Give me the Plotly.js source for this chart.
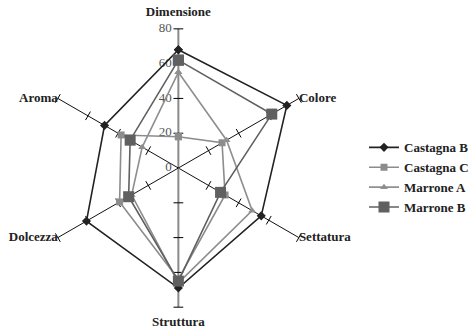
<!DOCTYPE html>
<html><head><meta charset="utf-8">
<script src="https://cdn.plot.ly/plotly-3.0.1.min.js"></script>
<style>html,body{margin:0;padding:0;background:#fff}#chart{width:474px;height:331px}</style>
</head><body><div id="chart"></div>
<script>
const categories = ["Dimensione", "Colore", "Settatura", "Struttura", "Dolcezza", "Aroma"];
const castagnaB = [68, 72, 55, 69, 61, 49];
const castagnaC = [18, 29, 31, 64, 39, 38];
const marroneA  = [55, 32, 49, 66, 31, 24];
const marroneB  = [62, 62, 28, 65, 33, 32];
const radialTicks = [0, 20, 40, 60, 80];

const close = a => a.concat([a[0]]);
const thetaC = close(categories);
const font = "Liberation Serif";
const AXMAX = 80;

const series = [
  {name: "Castagna B", r: castagnaB, color: "#222222", symbol: "diamond", size: 7, width: 1.6},
  {name: "Castagna C", r: castagnaC, color: "#8c8c8c", symbol: "square", size: 7, width: 1.6},
  {name: "Marrone A",  r: marroneA,  color: "#8f8f8f", symbol: "triangle-up", size: 7, width: 1.6},
  {name: "Marrone B",  r: marroneB,  color: "#606060", symbol: "square", size: 11, width: 1.6}
];

const traces = [];
categories.forEach((c, i) => {
  const vertical = (i % 3 === 0);
  traces.push({
    type: "scatterpolar", mode: "lines", r: [0, AXMAX], theta: [c, c],
    line: {color: vertical ? "#8a8a8a" : "#111", width: vertical ? 2 : 1},
    showlegend: false, hoverinfo: "skip"
  });
});
const tr = [], tt = [], ta = [];
categories.forEach((c, i) => {
  radialTicks.slice(1).forEach(v => { tr.push(v); tt.push(c); ta.push(60 * i - 90); });
});
traces.push({
  type: "scatterpolar", mode: "markers", r: tr, theta: tt,
  marker: {symbol: "line-ns", size: 7, angle: ta, color: "#000", line: {color: "#000", width: 1}},
  showlegend: false, hoverinfo: "skip", cliponaxis: false
});
traces.push({
  type: "scatterpolar", mode: "text", r: radialTicks, theta: radialTicks.map(() => categories[0]),
  text: radialTicks.map(v => v + "\u00a0\u00a0"), textposition: "middle left", cliponaxis: false,
  textfont: {family: font, size: 13, color: "#555"}, showlegend: false, hoverinfo: "skip"
});
traces.push({
  type: "scatterpolar", mode: "text", r: [89, AXMAX, AXMAX, 89, AXMAX, AXMAX], theta: categories,
  text: categories, cliponaxis: false,
  textposition: ["middle center", "middle right", "middle right", "middle center", "middle left", "middle left"],
  textfont: {family: font, size: 13, color: "#222", weight: "bold"}, showlegend: false, hoverinfo: "skip"
});
series.forEach(s => traces.push({
  type: "scatterpolar", mode: "lines+markers", name: s.name,
  r: close(s.r), theta: thetaC, cliponaxis: false,
  line: {color: s.color, width: s.width},
  marker: {symbol: s.symbol, size: s.size, color: s.color}
}));

const layout = {
  width: 474, height: 331,
  margin: {l: 0, r: 0, t: 0, b: 0},
  paper_bgcolor: "#fff",
  font: {family: font},
  showlegend: true,
  legend: {x: 0.797, y: 0.6, xanchor: "left", yanchor: "top",
    font: {family: font, size: 13, color: "#222", weight: "bold"}, tracegroupgap: 0},
  polar: {
    domain: {x: [0.0477, 0.7329], y: [0.0018, 0.983]},
    bgcolor: "rgba(0,0,0,0)",
    radialaxis: {range: [0, 90], angle: 90, showticklabels: false,
      showline: false, showgrid: false, ticks: ""},
    angularaxis: {type: "category", categoryarray: categories, rotation: 90, direction: "clockwise",
      showline: false, showgrid: false, ticks: "", showticklabels: false}
  }
};
Plotly.newPlot("chart", traces, layout, {staticPlot: true});
</script></body></html>
